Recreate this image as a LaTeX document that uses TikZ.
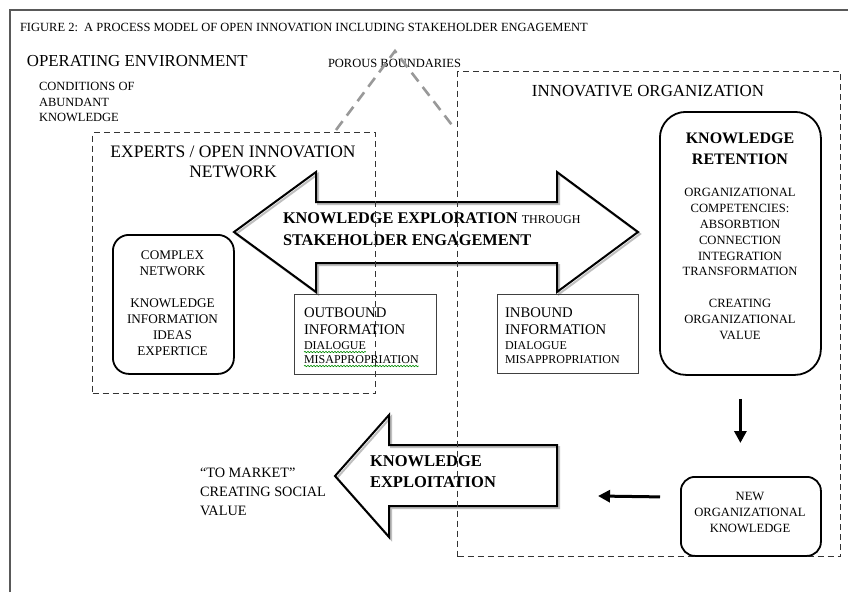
\documentclass[tikz,border=0pt]{standalone}
\usepackage{fontspec}
\setmainfont{Liberation Serif}
\usetikzlibrary{arrows.meta,decorations.pathmorphing}
\newcommand{\fsz}[2]{\fontsize{#1}{#2}\selectfont}
\begin{document}
\begin{tikzpicture}[x=1pt,y=-1pt,
  txt/.style={inner sep=0pt, outer sep=0pt, text=black},
  frameline/.style={draw=black!65, line width=2pt},
  dashbox/.style={draw=black!80, line width=1.4pt, dash pattern=on 6pt off 4pt, inner sep=0pt, anchor=north west},
  porousline/.style={draw=black!40, line width=2.6pt, dash pattern=on 11pt off 7pt},
  blockarrow/.style={draw=black, line width=2pt, line join=miter},
  arrowshadow/.style={draw=black!25, line width=2pt, line join=miter},
  sqbox/.style={draw=black!75, line width=1.3pt, inner sep=0pt, anchor=north west},
  rbox/.style={draw=black, line width=1.8pt, inner sep=0pt, anchor=north west},
  thickarr/.style={draw=black, line width=3pt, -{Triangle[length=12pt,width=12pt]}},
  squig/.style={draw=green!55!black, line width=0.6pt, decorate, decoration={snake, amplitude=0.7pt, segment length=3pt}}
]
\useasboundingbox (0,0) rectangle (848,592);
\fill[white] (0,0) rectangle (848,592);
% outer frame
\draw[frameline] (10,592) -- (10,10) -- (848,10);

% title
\node[txt, anchor=west, font=\fsz{12.5}{14}] (title) at (20,27) {FIGURE 2:\ \ A PROCESS MODEL OF OPEN INNOVATION INCLUDING STAKEHOLDER ENGAGEMENT};

% operating environment
\node[txt, anchor=west, font=\fsz{16.8}{20}] (openv) at (27,61) {OPERATING ENVIRONMENT};
\node[txt, anchor=west, align=left, font=\fsz{12.5}{15.5}] (cond) at (39,102) {CONDITIONS OF\\ABUNDANT\\KNOWLEDGE};
\node[txt, anchor=west, font=\fsz{12.5}{14}] (porous) at (328,63) {POROUS BOUNDARIES};

% block arrows
\draw[arrowshadow] (236,234) -- (318,174) -- (318,204) -- (559,204) -- (559,174) -- (640,234) -- (559,294) -- (559,265) -- (318,265) -- (318,294) -- cycle;
\draw[blockarrow] (234,232) -- (316,172) -- (316,202) -- (557,202) -- (557,172) -- (638,232) -- (557,292) -- (557,263) -- (316,263) -- (316,292) -- cycle;
\draw[arrowshadow] (337,478) -- (391,417) -- (391,447) -- (559,447) -- (559,508) -- (391,508) -- (391,539) -- cycle;
\draw[blockarrow] (335,476) -- (389,415) -- (389,445) -- (557,445) -- (557,506) -- (389,506) -- (389,537) -- cycle;

\node[txt, anchor=west, align=left, font=\fsz{16.3}{22}] (explo) at (283,229) {\textbf{KNOWLEDGE EXPLORATION} {\fsz{12}{14}THROUGH}\\\textbf{STAKEHOLDER ENGAGEMENT}};
\node[txt, anchor=west, align=left, font=\fsz{16.5}{21}\bfseries] (exploit) at (370,471.5) {KNOWLEDGE\\EXPLOITATION};

% dashed frames
\node[dashbox, minimum width=283pt, minimum height=261pt] (exp) at (92,132) {};
\node[dashbox, minimum width=383pt, minimum height=485pt] (inn) at (457,71) {};
\draw[porousline] (336,130) -- (395,51) -- (455,129);

\node[txt, align=center, font=\fsz{17.5}{20}] (explbl) at (233,162) {EXPERTS / OPEN INNOVATION\\NETWORK};
\node[txt, font=\fsz{16.9}{20}] (innlbl) at (648,91) {INNOVATIVE ORGANIZATION};

% complex network
\node[rbox, rounded corners=16pt, minimum width=121pt, minimum height=139pt] (cnet) at (112,234) {};
\node[txt, align=center, font=\fsz{13.2}{16}] (cnett) at (172.5,303) {COMPLEX\\NETWORK\\[16pt]KNOWLEDGE\\INFORMATION\\IDEAS\\EXPERTICE};

% outbound
\node[sqbox, minimum width=142pt, minimum height=80pt] (outb) at (294,294) {};
\node[txt, anchor=west, align=left, font=\fsz{14.7}{17}] (outt) at (304,321.5) {OUTBOUND\\INFORMATION};
\node[txt, anchor=west, font=\fsz{12}{14}] (outd1) at (304,346) {DIALOGUE};
\node[txt, anchor=west, font=\fsz{12}{14}] (outd2) at (304,360) {MISAPPROPRIATION};
\draw[squig] ([yshift=-2pt]outd1.south west) -- ([yshift=-2pt]outd1.south east);
\draw[squig] ([yshift=-2pt]outd2.south west) -- ([yshift=-2pt]outd2.south east);

% inbound
\node[sqbox, minimum width=141pt, minimum height=79pt] (inb) at (497,294) {};
\node[txt, anchor=west, align=left, font=\fsz{14.7}{17}] (inbt) at (505,321.5) {INBOUND\\INFORMATION};
\node[txt, anchor=west, align=left, font=\fsz{12}{14}] (inbd) at (505,353) {DIALOGUE\\MISAPPROPRIATION};

% knowledge retention
\node[rbox, rounded corners=26pt, minimum width=161pt, minimum height=263pt] (ret) at (659,111) {};
\node[txt, align=center, font=\fsz{16}{21}\bfseries] (rett) at (740,148.5) {KNOWLEDGE\\RETENTION};
\node[txt, align=center, font=\fsz{12.6}{15.8}] (retc) at (740,264) {ORGANIZATIONAL\\COMPETENCIES:\\ABSORBTION\\CONNECTION\\INTEGRATION\\TRANSFORMATION\\[15.8pt]CREATING\\ORGANIZATIONAL\\VALUE};

% new organizational knowledge
\node[rbox, rounded corners=14pt, minimum width=140pt, minimum height=79pt] (newb) at (680,476) {};
\node[txt, align=center, font=\fsz{12.6}{16}] (newt) at (750,512) {NEW\\ORGANIZATIONAL\\KNOWLEDGE};

% to market
\node[txt, anchor=west, align=left, font=\fsz{14.3}{19}] (market) at (200,492) {“TO MARKET”\\CREATING SOCIAL\\VALUE};

% connectors
\draw[thickarr, shorten <=23pt, shorten >=33pt] (ret.south) -- (ret.south |- newb.north);
\coordinate (exend) at (598,496);
\draw[thickarr] ([shift={(-20,-19.5)}]newb.west) -- (exend);
\end{tikzpicture}
\end{document}
